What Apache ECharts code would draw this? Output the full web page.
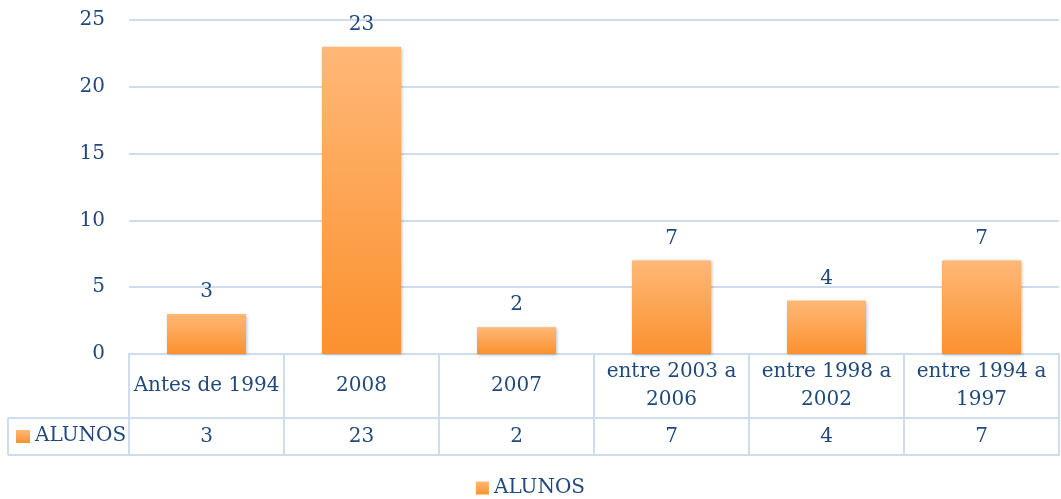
<!DOCTYPE html>
<html lang="pt">
<head>
	<meta charset="UTF-8">
	<title>ALUNOS</title>
	<script src="https://cdn.jsdelivr.net/npm/echarts@6/dist/echarts.min.js"></script>
	<style>
		html, body { margin: 0; padding: 0; background: #fff; }
		#chart { width: 1061px; height: 499px; }
	</style>
</head>
<body>
<div id="chart"></div>
<script>
	var categories = ['Antes de 1994', '2008', '2007', 'entre 2003 a 2006', 'entre 1998 a 2002', 'entre 1994 a 1997'];
	var alunos = [3, 23, 2, 7, 4, 7];
	var seriesName = 'ALUNOS';

	var textColor = '#1f497d';
	var lineColor = '#cfdcef';
	var font = 'DejaVu Serif';
	var fontSize = 20;

	// layout of the plot + data table
	var gridLeft = 129, gridRight = 2, gridTop = 20, gridBottom = 145;
	var row1 = 64, row2 = 101, tableLeft = 8;
	var axisY = 499 - gridBottom;

	function wrapLabel(s) {
		if (s.length <= 14) return s;
		var i = s.lastIndexOf(' ');
		return s.slice(0, i) + '\n' + s.slice(i + 1);
	}

	function barGradient() {
		return new echarts.graphic.LinearGradient(0, 0, 0, 1, [
			{ offset: 0, color: '#ffb877' },
			{ offset: 1, color: '#fb912f' }
		]);
	}

	var chart = echarts.init(document.getElementById('chart'));
	chart.setOption({
		backgroundColor: '#fff',
		animation: false,
		textStyle: { fontFamily: font, color: textColor },
		grid: { left: gridLeft, right: gridRight, top: gridTop, bottom: gridBottom },
		legend: {
			top: 478,
			left: 'center',
			icon: 'rect',
			itemWidth: 13,
			itemHeight: 13,
			itemGap: 6,
			padding: 0,
			textStyle: { fontFamily: font, fontSize: fontSize, color: textColor },
			data: [seriesName]
		},
		yAxis: {
			type: 'value',
			min: 0,
			max: 25,
			interval: 5,
			axisLine: { show: false },
			axisTick: { show: false },
			axisLabel: { margin: 24, fontFamily: font, fontSize: fontSize, color: textColor },
			splitLine: { lineStyle: { color: lineColor, width: 2 } }
		},
		xAxis: [{
			type: 'category',
			data: categories,
			position: 'bottom',
			axisLine: { lineStyle: { color: lineColor, width: 2 } },
			axisTick: { show: true, interval: 0, length: row2, lineStyle: { color: lineColor, width: 2 } },
			axisLabel: {
				interval: 0,
				margin: 32,
				verticalAlign: 'middle',
				lineHeight: 28,
				fontFamily: font,
				fontSize: fontSize,
				color: textColor,
				formatter: wrapLabel
			}
		}, {
			type: 'category',
			data: categories,
			position: 'bottom',
			offset: row1,
			axisLine: { lineStyle: { color: lineColor, width: 2 } },
			axisTick: { show: false },
			axisLabel: {
				interval: 0,
				margin: 19,
				verticalAlign: 'middle',
				fontFamily: font,
				fontSize: fontSize,
				color: textColor,
				formatter: function (v, i) { return String(alunos[i]); }
			}
		}, {
			type: 'category',
			data: categories,
			position: 'bottom',
			offset: row2,
			axisLine: { lineStyle: { color: lineColor, width: 2 } },
			axisTick: { show: false },
			axisLabel: { show: false }
		}],
		series: [{
			name: seriesName,
			type: 'bar',
			xAxisIndex: 0,
			barWidth: 79,
			data: alunos,
			itemStyle: {
				color: barGradient(),
				shadowBlur: 3,
				shadowColor: 'rgba(0,0,0,0.25)',
				shadowOffsetX: 1,
				shadowOffsetY: 1
			},
			label: {
				show: true,
				position: 'top',
				distance: 12,
				fontFamily: font,
				fontSize: fontSize,
				color: textColor
			}
		}],
		graphic: [
			{ type: 'line', shape: { x1: tableLeft, y1: axisY + row1, x2: gridLeft, y2: axisY + row1 }, style: { stroke: lineColor, lineWidth: 2 } },
			{ type: 'line', shape: { x1: tableLeft, y1: axisY + row2, x2: gridLeft, y2: axisY + row2 }, style: { stroke: lineColor, lineWidth: 2 } },
			{ type: 'line', shape: { x1: tableLeft, y1: axisY + row1, x2: tableLeft, y2: axisY + row2 }, style: { stroke: lineColor, lineWidth: 2 } },
			{
				type: 'rect',
				shape: { x: 16, y: axisY + 76, width: 14, height: 13 },
				style: { fill: barGradient() }
			},
			{
				type: 'text',
				left: 35,
				top: axisY + 72,
				style: { text: seriesName, font: fontSize + 'px "' + font + '"', fill: textColor }
			}
		]
	});
</script>
</body>
</html>
